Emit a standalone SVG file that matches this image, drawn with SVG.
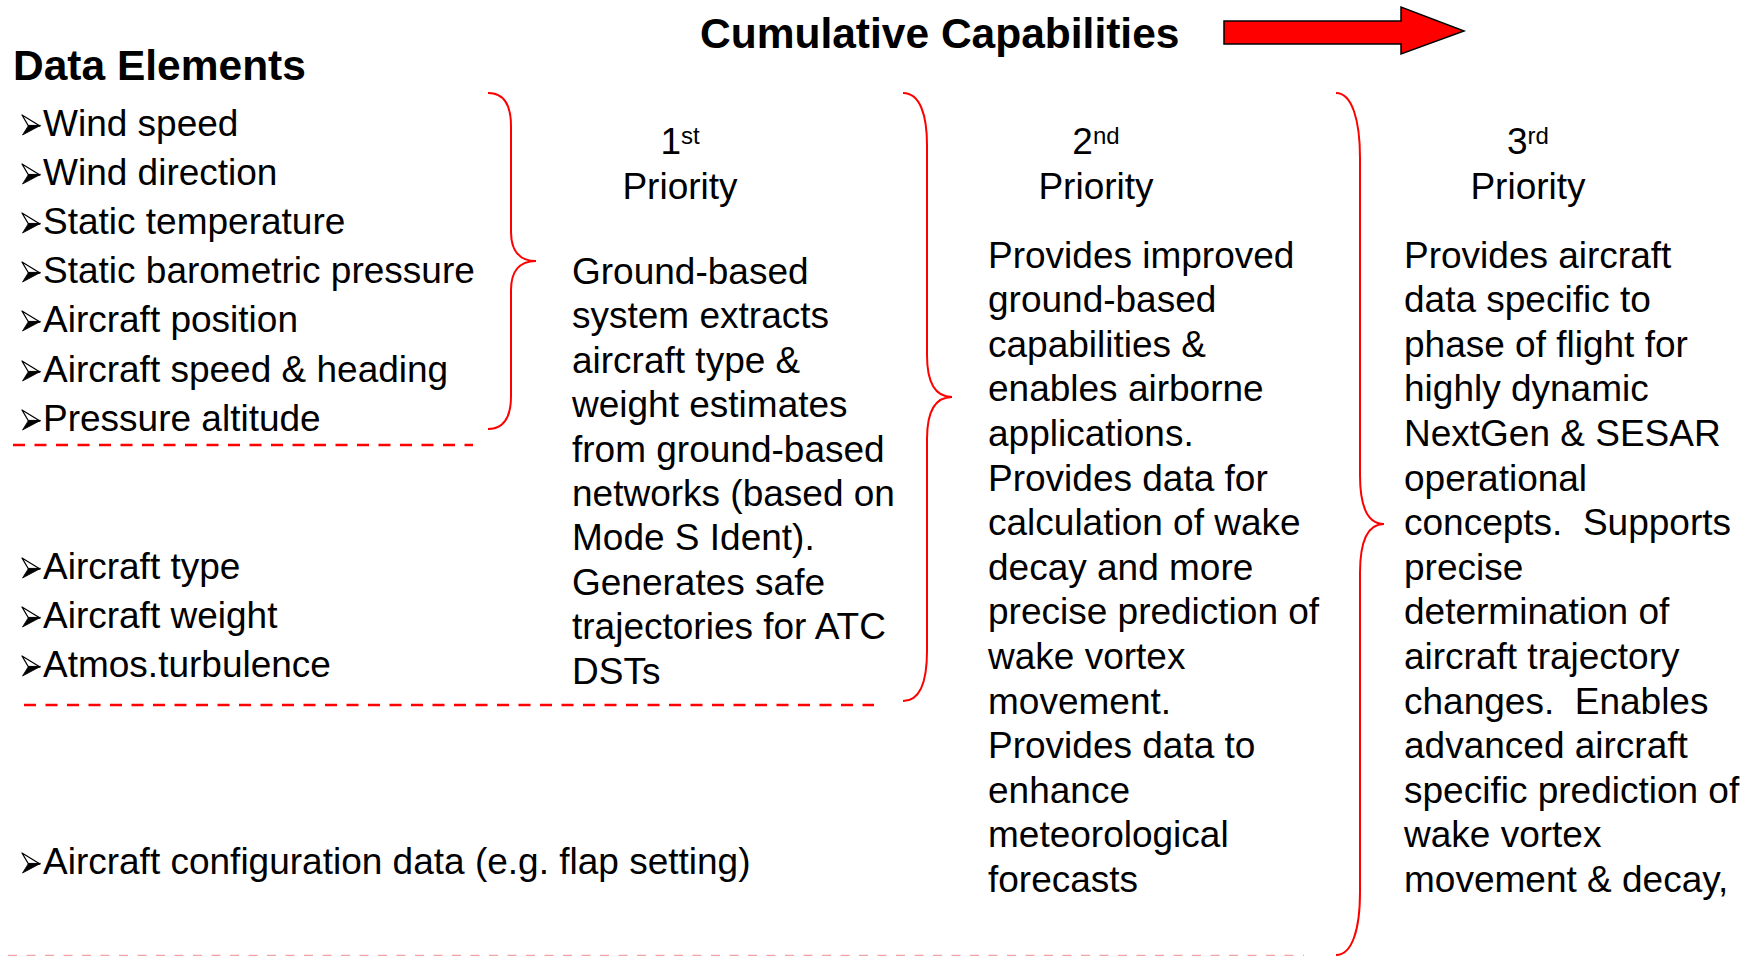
<svg xmlns="http://www.w3.org/2000/svg" width="1756" height="956" viewBox="0 0 1756 956">
<style>
  text { font-family: "Liberation Sans", Arial, sans-serif; fill: #000; }
  .h { font-size: 42.5px; font-weight: bold; }
  .t { font-size: 37px; }
  .sup { font-size: 24px; }
  .body { font-size: 37px; white-space: pre; }
  .brace { fill: none; stroke: #ff0000; stroke-width: 2; }
  .dash { fill: none; stroke: #ff0000; stroke-width: 2.5; stroke-dasharray: 12 9.5; }
</style>
<defs>
  <g id="bul">
    <polygon points="22,-21 40,-10 28.5,-10" fill="#fff" stroke="#000" stroke-width="1.3" stroke-linejoin="round"/>
    <polygon points="28.5,-10.6 40.5,-10.6 22.5,-1" fill="#000" stroke="#000" stroke-width="0.8" stroke-linejoin="round"/>
  </g>
</defs>
<rect width="1756" height="956" fill="#fff"/>

<g id="title">
  <text class="h" x="700" y="48">Cumulative Capabilities</text>
  <polygon points="1224,21 1401,21 1401,7 1464,31 1401,54 1401,44 1224,44" fill="#ff0000" stroke="#000" stroke-width="1.5"/>
</g>

<g id="data-elements">
  <text class="h" x="13" y="80">Data Elements</text>
  <g id="group1">
    <use href="#bul" x="0" y="136"/><text class="t" x="43" y="136">Wind speed</text>
    <use href="#bul" x="0" y="185"/><text class="t" x="43" y="185">Wind direction</text>
    <use href="#bul" x="0" y="234"/><text class="t" x="43" y="234">Static temperature</text>
    <use href="#bul" x="0" y="283"/><text class="t" x="43" y="283">Static barometric pressure</text>
    <use href="#bul" x="0" y="332"/><text class="t" x="43" y="332">Aircraft position</text>
    <use href="#bul" x="0" y="382"/><text class="t" x="43" y="382">Aircraft speed &amp; heading</text>
    <use href="#bul" x="0" y="431"/><text class="t" x="43" y="431">Pressure altitude</text>
  </g>
  <g id="group2">
    <use href="#bul" x="0" y="579"/><text class="t" x="43" y="579">Aircraft type</text>
    <use href="#bul" x="0" y="628"/><text class="t" x="43" y="628">Aircraft weight</text>
    <use href="#bul" x="0" y="677"/><text class="t" x="43" y="677">Atmos.turbulence</text>
  </g>
  <g id="group3">
    <use href="#bul" x="0" y="874"/><text class="t" x="43" y="874">Aircraft configuration data (e.g. flap setting)</text>
  </g>
</g>

<g id="priority1">
  <text class="t" x="680" y="154" text-anchor="middle">1<tspan class="sup" dy="-10">st</tspan></text>
  <text class="t" x="680" y="199" text-anchor="middle">Priority</text>
  <text class="body">
    <tspan x="572" y="284">Ground-based</tspan>
    <tspan x="572" y="328.4">system extracts</tspan>
    <tspan x="572" y="372.8">aircraft type &amp;</tspan>
    <tspan x="572" y="417.2">weight estimates</tspan>
    <tspan x="572" y="461.6">from ground-based</tspan>
    <tspan x="572" y="506">networks (based on</tspan>
    <tspan x="572" y="550.4">Mode S Ident).</tspan>
    <tspan x="572" y="594.8">Generates safe</tspan>
    <tspan x="572" y="639.2">trajectories for ATC</tspan>
    <tspan x="572" y="683.6">DSTs</tspan>
  </text>
</g>

<g id="priority2">
  <text class="t" x="1096" y="154" text-anchor="middle">2<tspan class="sup" dy="-10">nd</tspan></text>
  <text class="t" x="1096" y="199" text-anchor="middle">Priority</text>
  <text class="body">
    <tspan x="988" y="267.5">Provides improved</tspan>
    <tspan x="988" y="312.1">ground-based</tspan>
    <tspan x="988" y="356.7">capabilities &amp;</tspan>
    <tspan x="988" y="401.3">enables airborne</tspan>
    <tspan x="988" y="445.9">applications.</tspan>
    <tspan x="988" y="490.5">Provides data for</tspan>
    <tspan x="988" y="535.1">calculation of wake</tspan>
    <tspan x="988" y="579.7">decay and more</tspan>
    <tspan x="988" y="624.3">precise prediction of</tspan>
    <tspan x="988" y="668.9">wake vortex</tspan>
    <tspan x="988" y="713.5">movement.</tspan>
    <tspan x="988" y="758.1">Provides data to</tspan>
    <tspan x="988" y="802.7">enhance</tspan>
    <tspan x="988" y="847.3">meteorological</tspan>
    <tspan x="988" y="891.9">forecasts</tspan>
  </text>
</g>

<g id="priority3">
  <text class="t" x="1528" y="154" text-anchor="middle">3<tspan class="sup" dy="-10">rd</tspan></text>
  <text class="t" x="1528" y="199" text-anchor="middle">Priority</text>
  <text class="body">
    <tspan x="1404" y="267.5">Provides aircraft</tspan>
    <tspan x="1404" y="312.1">data specific to</tspan>
    <tspan x="1404" y="356.7">phase of flight for</tspan>
    <tspan x="1404" y="401.3">highly dynamic</tspan>
    <tspan x="1404" y="445.9">NextGen &amp; SESAR</tspan>
    <tspan x="1404" y="490.5">operational</tspan>
    <tspan x="1404" y="535.1">concepts.  Supports</tspan>
    <tspan x="1404" y="579.7">precise</tspan>
    <tspan x="1404" y="624.3">determination of</tspan>
    <tspan x="1404" y="668.9">aircraft trajectory</tspan>
    <tspan x="1404" y="713.5">changes.  Enables</tspan>
    <tspan x="1404" y="758.1">advanced aircraft</tspan>
    <tspan x="1404" y="802.7">specific prediction of</tspan>
    <tspan x="1404" y="847.3">wake vortex</tspan>
    <tspan x="1404" y="891.9">movement &amp; decay,</tspan>
  </text>
</g>

<g id="connectors">
  <path class="brace" d="M488,93 C505,93 511,106 511,126 L511,232 C511,250 519,261 536,261 C519,261 511,272 511,290 L511,396 C511,416 505,429 488,429"/>
  <path class="brace" d="M903,93 C920,93 927,115 927,145 L927,355 C927,382 935,397 952,397 C935,397 927,412 927,439 L927,651 C927,681 920,701 903,701"/>
  <path class="brace" d="M1336,93 C1352,93 1360,120 1360,158 L1360,475 C1360,505 1367,524 1384,524 C1367,524 1360,543 1360,573 L1360,892 C1360,930 1352,955 1336,955"/>
  <line class="dash" x1="13" y1="445" x2="473" y2="445"/>
  <line class="dash" x1="24" y1="705" x2="874" y2="705"/>
  <line x1="8" y1="955.5" x2="1304" y2="955.5" stroke="#f4a3a3" stroke-width="1.5" stroke-dasharray="9 9.5"/>
</g>
</svg>
